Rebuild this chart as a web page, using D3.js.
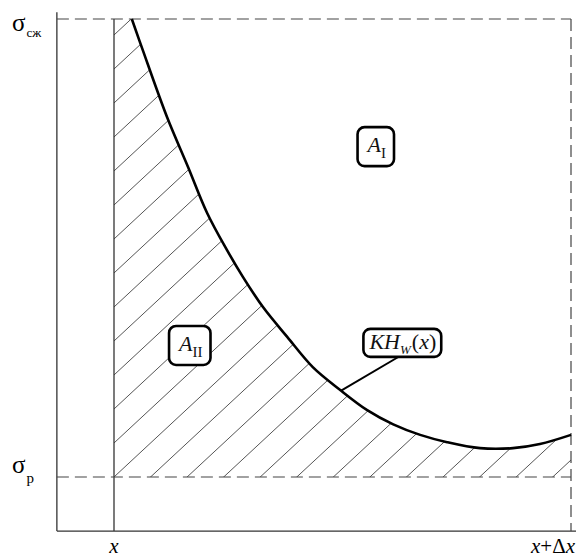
<!DOCTYPE html>
<html><head><meta charset="utf-8">
<script src="https://cdn.jsdelivr.net/npm/d3@7"></script>
<style>body{margin:0;background:#fff} svg{display:block}</style>
</head><body><svg id="c" width="576" height="559"></svg>
<script>
// ---- data (normalized: x from x (0) to x+Δx (1); stress from σр (0) to σсж (1)) ----
const curveX = [0.039, 0.063, 0.116, 0.162, 0.204, 0.247, 0.282, 0.326, 0.379, 0.435, 0.495, 0.554, 0.611, 0.670, 0.729, 0.801, 0.873, 0.932, 1.0];
const curveY = [1.000, 0.932, 0.786, 0.677, 0.576, 0.496, 0.437, 0.371, 0.306, 0.240, 0.190, 0.146, 0.115, 0.092, 0.076, 0.063, 0.063, 0.072, 0.092];
const stressLevels = [0, 1];
const stressSubs = ["р", "сж"];
const xLevels = [0, 1];
const xTickLabels = ["x", "x+Δx"];
const regionNames = ["A_I", "A_II", "KH_W(x)"];
const regionX = [0.575, 0.168, 0.632];
const regionY = [0.718, 0.284, 0.295];
const leaderFromX = 0.497;

const svg = d3.select("#c");
const x = d3.scaleLinear().domain([0, 1]).range([114, 571]);
const y = d3.scaleLinear().domain([0, 1]).range([477, 19]);
const axisX = x(-0.125), axisY = y(-0.118);
const serif = "'Liberation Serif','DejaVu Serif',serif";

const pts = curveX.map((d, i) => [d, curveY[i]]);
const line = d3.line().x(d => x(d[0])).y(d => y(d[1])).curve(d3.curveCatmullRom.alpha(0.5));
const curvePath = line(pts);

// hatch clip region
const clipD = `M${x(0)},${y(0)}L${x(0)},${y(1)}L` + curvePath.slice(1) + `L${x(1)},${y(0)}Z`;
svg.append("clipPath").attr("id", "hc").append("path").attr("d", clipD);
const hatch = svg.append("g").attr("clip-path", "url(#hc)");
const slope = 0.93, step = 34;
d3.range(-5, 40).forEach(k => {
  const y0 = 35 + step * k; // y at x=114
  const xa = 100, xb = 580;
  hatch.append("line")
    .attr("x1", xa).attr("y1", y0 + slope * (114 - xa))
    .attr("x2", xb).attr("y2", y0 - slope * (xb - 114))
    .attr("stroke", "#555").attr("stroke-width", 1);
});

// frame
svg.append("line").attr("x1", axisX).attr("y1", y(1.015)).attr("x2", axisX).attr("y2", axisY)
  .attr("stroke", "#333").attr("stroke-width", 1.3);
svg.append("line").attr("x1", axisX).attr("y1", axisY).attr("x2", 576).attr("y2", axisY)
  .attr("stroke", "#333").attr("stroke-width", 1.3);
svg.append("line").attr("x1", x(0)).attr("y1", y(1)).attr("x2", x(0)).attr("y2", axisY)
  .attr("stroke", "#333").attr("stroke-width", 1.3);

// dashed levels
stressLevels.forEach(v => {
  svg.append("line").attr("x1", axisX).attr("x2", x(1)).attr("y1", y(v)).attr("y2", y(v))
    .attr("stroke", "#444").attr("stroke-width", 1.2).attr("stroke-dasharray", "12,6");
});
svg.append("line").attr("x1", x(1)).attr("x2", x(1)).attr("y1", y(1)).attr("y2", axisY)
  .attr("stroke", "#444").attr("stroke-width", 1.2).attr("stroke-dasharray", "12,6");

// curve
svg.append("path").attr("d", curvePath).attr("fill", "none").attr("stroke", "#000").attr("stroke-width", 2.6);

// stress labels
stressLevels.forEach((v, i) => {
  const t = svg.append("text").attr("x", 12).attr("y", v === 1 ? y(v) + 12 : y(v) - 4)
    .attr("font-family", serif).attr("font-size", 25).attr("fill", "#000");
  t.append("tspan").text("σ");
  t.append("tspan").attr("dy", v === 1 ? 6 : 10).attr("dx", 1).attr("font-size", v === 1 ? 13 : 15).text(stressSubs[i]);
});

// x labels
xLevels.forEach((v, i) => {
  const t = svg.append("text").attr("y", 553).attr("font-family", serif).attr("font-size", 21)
    .attr("fill", "#000");
  if (i === 0) {
    t.attr("x", x(v)).attr("text-anchor", "middle").attr("font-style", "italic").text(xTickLabels[i]);
  } else {
    t.attr("x", 575).attr("text-anchor", "end");
    t.append("tspan").attr("font-style", "italic").text("x");
    t.append("tspan").text("+Δ");
    t.append("tspan").attr("font-style", "italic").text("x");
  }
});

// leader line
svg.append("line")
  .attr("x1", x(leaderFromX)).attr("y1", y(curveY[10] + (leaderFromX - curveX[10]) * (curveY[11] - curveY[10]) / (curveX[11] - curveX[10])))
  .attr("x2", 400).attr("y2", 356).attr("stroke", "#000").attr("stroke-width", 2);

// region labels in rounded boxes
const pads = [[8, 5], [8, 5], [5, 0]];
regionNames.forEach((name, i) => {
  const g = svg.append("g");
  const t = g.append("text").attr("font-family", serif).attr("font-size", 22).attr("fill", "#111")
    .attr("x", x(regionX[i])).attr("y", y(regionY[i])).attr("text-anchor", "middle");
  if (name === "KH_W(x)") {
    t.append("tspan").attr("font-style", "italic").text("KH");
    t.append("tspan").attr("font-style", "italic").attr("font-size", 13).attr("dy", 5).text("W");
    t.append("tspan").attr("dy", -5).attr("dx", 1).text("(");
    t.append("tspan").attr("font-style", "italic").text("x");
    t.append("tspan").text(")");
    t.attr("dy", 7);
  } else {
    const [base, sub] = name.split("_");
    t.append("tspan").attr("font-style", "italic").text(base);
    t.append("tspan").attr("font-size", 15).attr("dy", 6).text(sub);
    t.attr("dy", 4);
  }
  const bb = t.node().getBBox();
  g.insert("rect", "text")
    .attr("x", bb.x - pads[i][0]).attr("y", bb.y - pads[i][1])
    .attr("width", bb.width + 2 * pads[i][0]).attr("height", bb.height + 2 * pads[i][1])
    .attr("rx", 7).attr("fill", "#fff").attr("stroke", "#000").attr("stroke-width", 2.6);
});
</script></body></html>
